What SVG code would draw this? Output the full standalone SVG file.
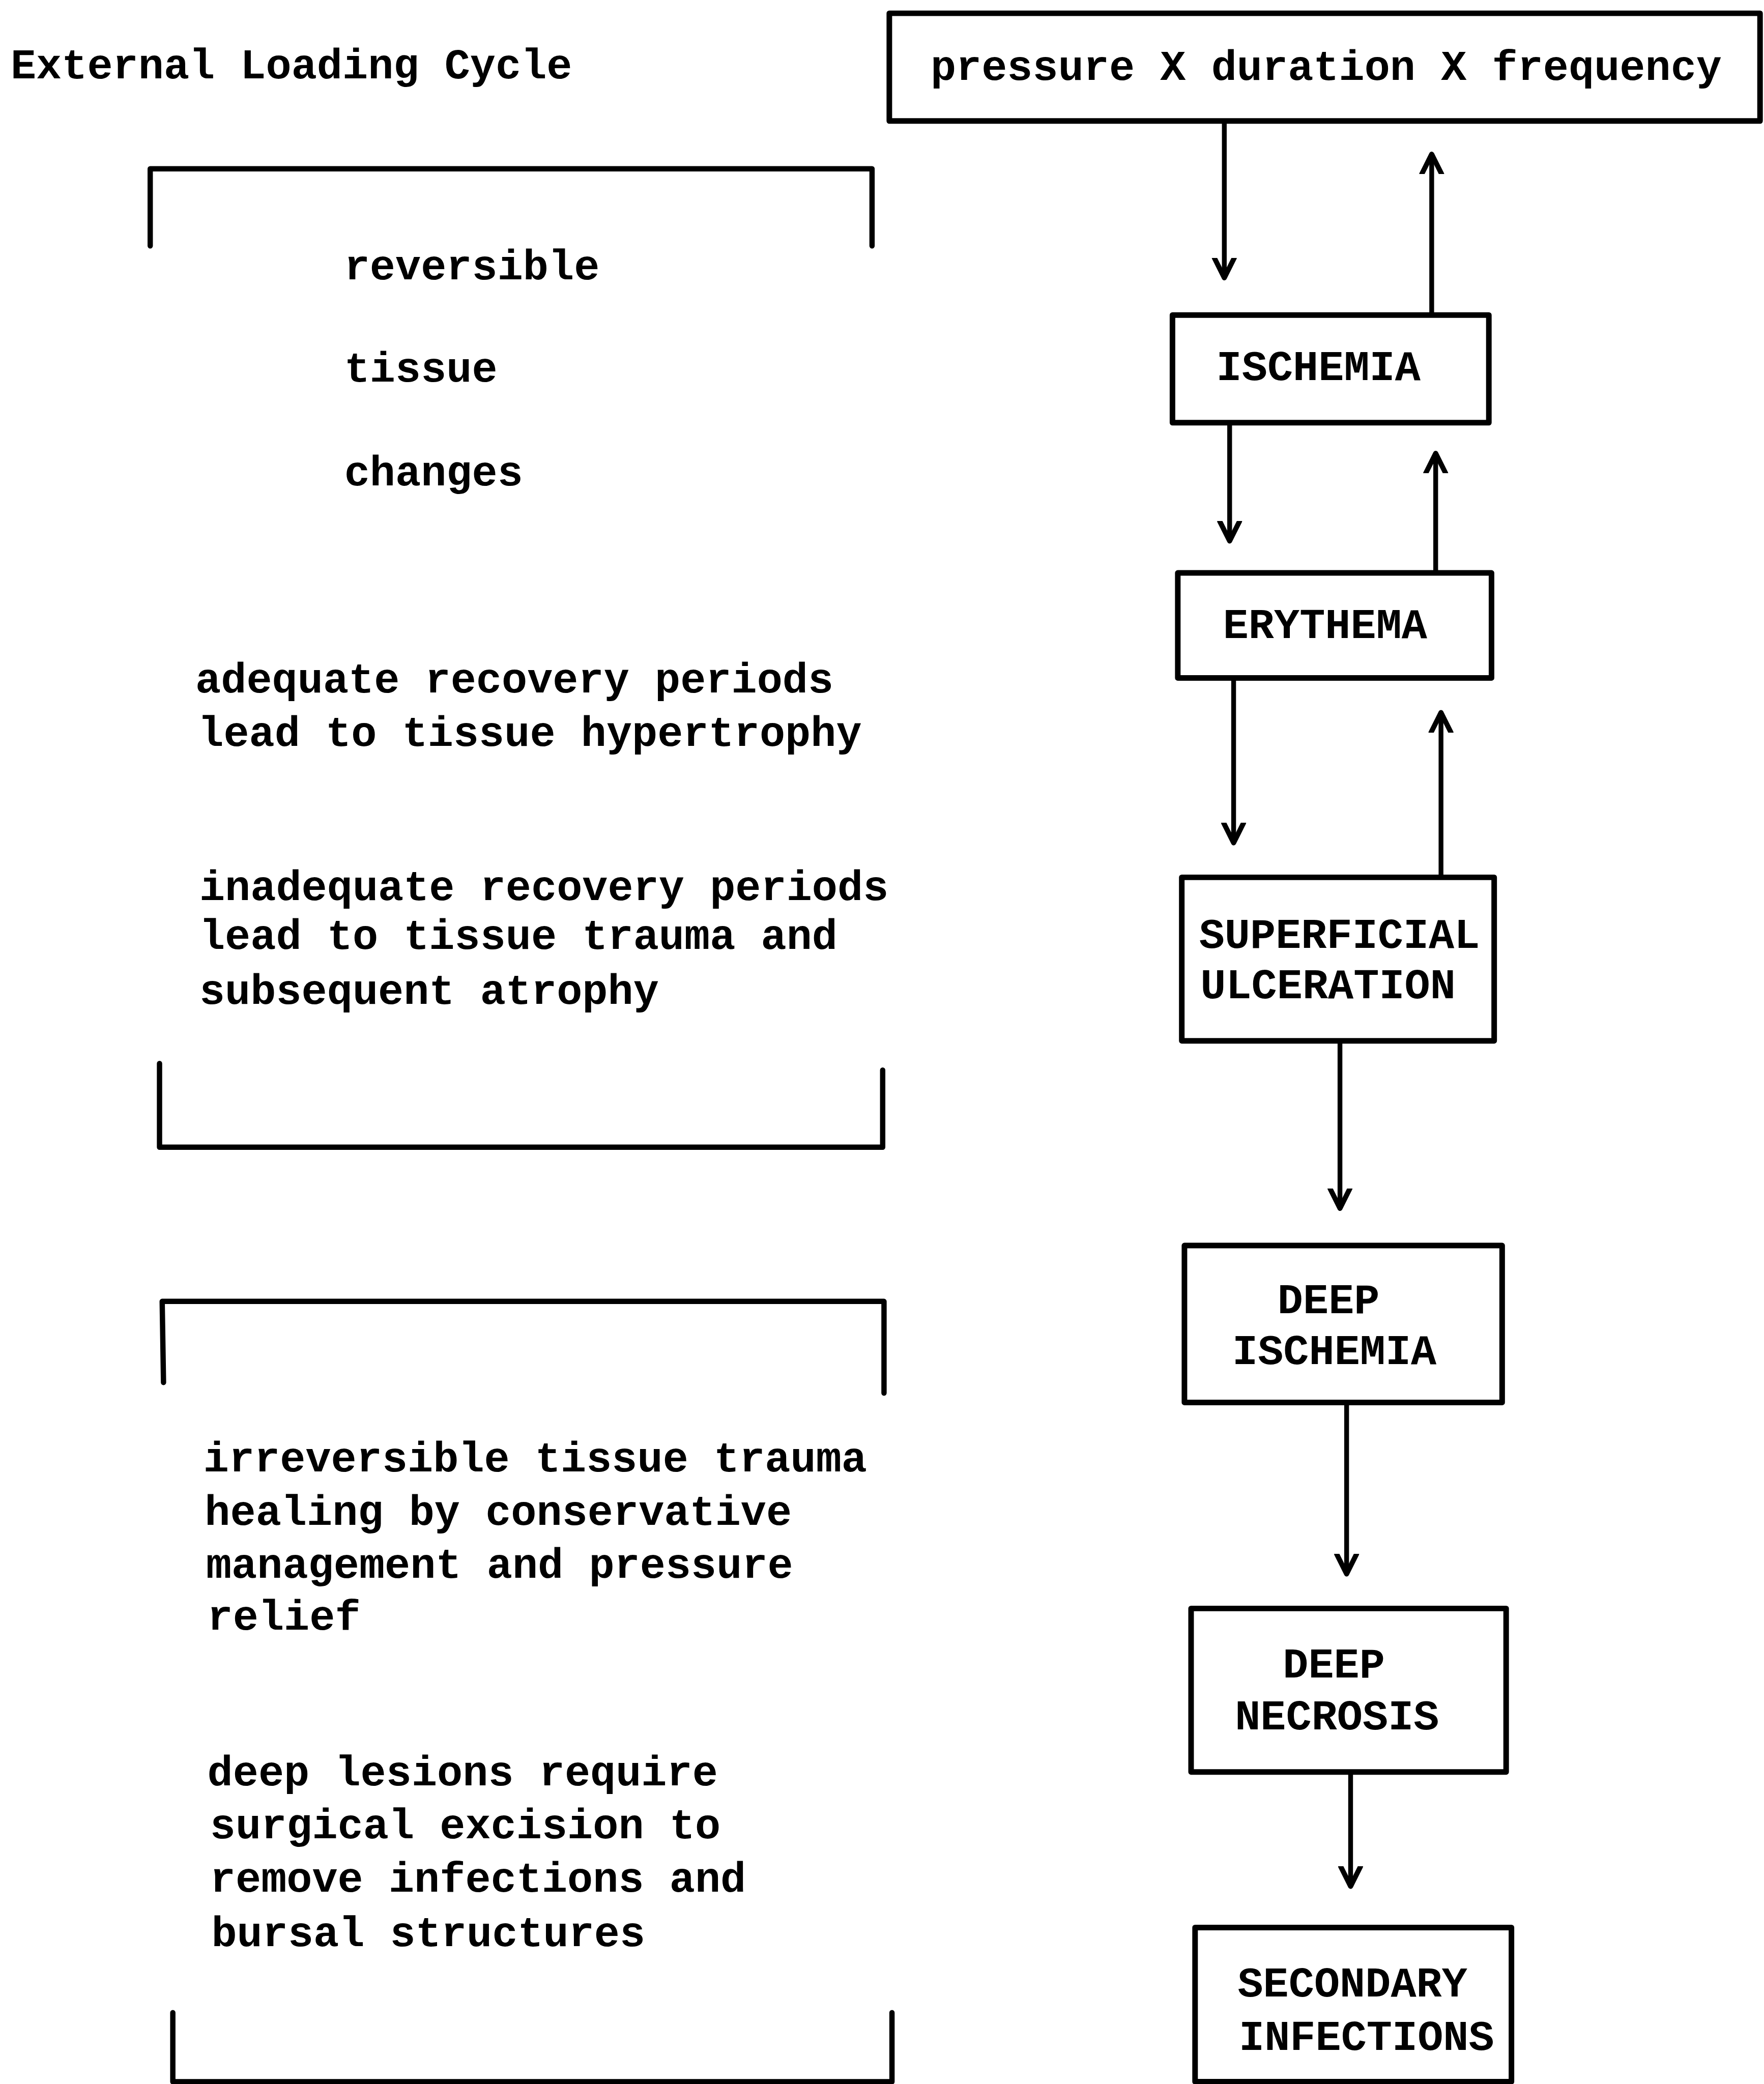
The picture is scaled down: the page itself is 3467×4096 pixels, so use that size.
<svg xmlns="http://www.w3.org/2000/svg" width="3467" height="4096" viewBox="0 0 3467 4096">
<defs>
<style>
text{font-family:"Liberation Mono","DejaVu Sans Mono",monospace;font-size:32px;font-weight:bold;fill:#000}
.box{fill:none;stroke:#000;stroke-width:4.2;stroke-linejoin:round}
.br{fill:none;stroke:#000;stroke-width:4;stroke-linejoin:round;stroke-linecap:round}
.ar{fill:none;stroke:#000;stroke-width:3.6;marker-end:url(#ah)}
</style>
<marker id="ah" markerUnits="userSpaceOnUse" markerWidth="30" markerHeight="30" viewBox="-15 -15 30 30" refX="0" refY="0" orient="auto">
<path d="M-15,-7.5 L0,0 L-15,7.5" fill="none" stroke="#000" stroke-width="3.8" stroke-linecap="round" stroke-linejoin="round"/>
</marker>
</defs>
<rect width="3467" height="4096" fill="#fff"/>
<g transform="scale(2.6127)">
<g id="title"><text x="8" y="59">External Loading Cycle</text></g>

<g id="bracket-reversible">
<path class="br" d="M113,185 L113,127 L656,127 L656,185"/>
<path class="br" d="M120,800 L120,863 L664,863 L664,805"/>
<text x="259" y="210">reversible</text>
<text x="259" y="287">tissue</text>
<text x="259" y="365">changes</text>
<text x="147" y="521">adequate recovery periods</text>
<text x="149" y="561">lead to tissue hypertrophy</text>
<text x="150" y="677">inadequate recovery periods</text>
<text x="150" y="714">lead to tissue trauma and</text>
<text x="150" y="755">subsequent atrophy</text>
</g>

<g id="bracket-irreversible">
<path class="br" d="M123,1040 L122,979 L665,979 L665,1048"/>
<path class="br" d="M130,1514 L130,1566 L671,1566 L671,1514"/>
<text x="153" y="1107">irreversible tissue trauma</text>
<text x="154" y="1147">healing by conservative</text>
<text x="155" y="1187">management and pressure</text>
<text x="156" y="1226">relief</text>
<text x="156" y="1343">deep lesions require</text>
<text x="158" y="1383">surgical excision to</text>
<text x="158" y="1423">remove infections and</text>
<text x="159" y="1464">bursal structures</text>
</g>

<g id="node-load"><rect class="box" x="669" y="10" width="655" height="81"/><text x="700" y="60">pressure X duration X frequency</text></g>
<g id="node-ischemia"><rect class="box" x="882" y="237" width="238" height="81"/><text x="915" y="286">ISCHEMIA</text></g>
<g id="node-erythema"><rect class="box" x="886" y="431" width="236" height="79"/><text x="920" y="480">ERYTHEMA</text></g>
<g id="node-superficial"><rect class="box" x="889" y="660" width="235" height="123"/><text x="902" y="713">SUPERFICIAL</text><text x="903" y="751">ULCERATION</text></g>
<g id="node-deep-ischemia"><rect class="box" x="891" y="937" width="239" height="118"/><text x="961" y="988">DEEP</text><text x="927" y="1026">ISCHEMIA</text></g>
<g id="node-deep-necrosis"><rect class="box" x="896" y="1210" width="237" height="123"/><text x="965" y="1262">DEEP</text><text x="929" y="1301">NECROSIS</text></g>
<g id="node-secondary"><rect class="box" x="899" y="1450" width="238" height="116"/><text x="931" y="1502">SECONDARY</text><text x="932" y="1542">INFECTIONS</text></g>

<g id="connectors">
<path class="ar" d="M921,92 L921,209"/>
<path class="ar" d="M1077,236 L1077,116"/>
<path class="ar" d="M925,319 L925,407"/>
<path class="ar" d="M1080,430 L1080,341"/>
<path class="ar" d="M928,511 L928,634"/>
<path class="ar" d="M1084,659 L1084,536"/>
<path class="ar" d="M1008,784 L1008,909"/>
<path class="ar" d="M1013,1056 L1013,1184"/>
<path class="ar" d="M1016,1334 L1016,1419"/>
</g>
</g>
</svg>
